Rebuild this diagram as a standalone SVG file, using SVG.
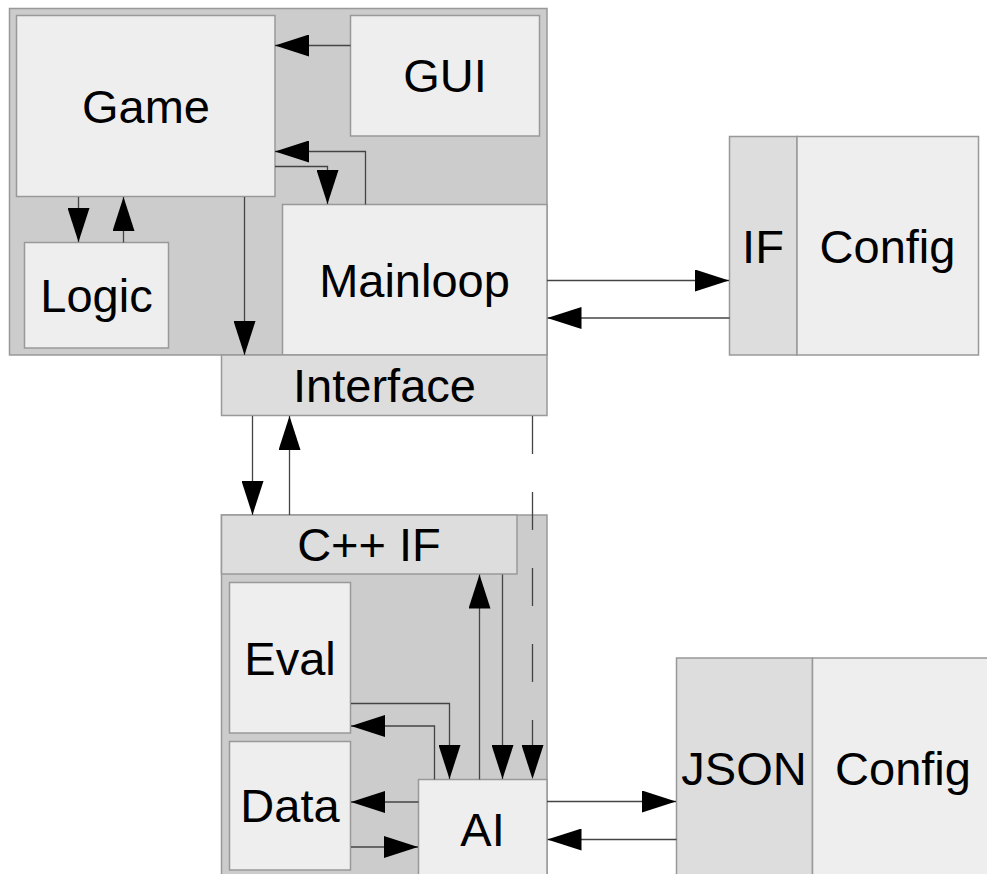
<svg xmlns="http://www.w3.org/2000/svg" width="987" height="874" viewBox="0 0 987 874">
<style>
.cont{fill:#cccccc;stroke:#999999;stroke-width:1.5}
.box{fill:#eeeeee;stroke:#999999;stroke-width:1.5}
.ifc{fill:#dddddd;stroke:#999999;stroke-width:1.5}
.lbl{font-family:"Liberation Sans",Arial,sans-serif;font-size:47px;fill:#000;text-anchor:middle}
.c{fill:none;stroke:#444444;stroke-width:1.3;marker-end:url(#ah)}
.d{stroke-dasharray:38 38}
</style>
<defs>
<marker id="ah" markerUnits="userSpaceOnUse" markerWidth="34" markerHeight="22" refX="34" refY="11" orient="auto" viewBox="0 0 34 22">
<path d="M0,0 L34,11 L0,22 z" fill="#000"/>
</marker>
</defs>
<rect id="top-container" class="cont" x="9.5" y="8.5" width="537.5" height="346.5"/>
<rect id="bottom-container" class="cont" x="221.5" y="515" width="325.5" height="365"/>
<g id="game"><rect class="box" x="16.5" y="15.5" width="258.5" height="181"/><text class="lbl" x="146" y="122.5">Game</text></g>
<g id="gui"><rect class="box" x="350.5" y="15.5" width="189" height="120.5"/><text class="lbl" x="445" y="92">GUI</text></g>
<g id="logic"><rect class="box" x="24.5" y="242.5" width="144" height="105.5"/><text class="lbl" x="96.5" y="312">Logic</text></g>
<g id="mainloop"><rect class="box" x="282.5" y="204.5" width="264.5" height="150.5"/><text class="lbl" x="414.5" y="296.5">Mainloop</text></g>
<g id="interface"><rect class="ifc" x="221.5" y="355" width="325.5" height="60.5"/><text class="lbl" x="384.5" y="401.5">Interface</text></g>
<g id="config-top"><rect class="ifc" x="729.5" y="136.5" width="67.5" height="218.5"/><rect class="box" x="797" y="136.5" width="181.5" height="218.5"/><text class="lbl" x="763" y="262.5">IF</text><text class="lbl" x="887.5" y="262.5">Config</text></g>
<g id="cppif"><rect class="ifc" x="221.5" y="515" width="295.5" height="59"/><text class="lbl" x="369" y="561">C++ IF</text></g>
<g id="eval"><rect class="box" x="229.5" y="582.5" width="121" height="150.5"/><text class="lbl" x="290" y="675">Eval</text></g>
<g id="data"><rect class="box" x="229.5" y="741.5" width="121" height="128.5"/><text class="lbl" x="290" y="822">Data</text></g>
<g id="ai"><rect class="box" x="418.5" y="779.5" width="128.5" height="100"/><text class="lbl" x="482.5" y="845.5">AI</text></g>
<g id="config-bottom"><rect class="ifc" x="676.5" y="658" width="136" height="222"/><rect class="box" x="812.5" y="658" width="182" height="222"/><text class="lbl" x="744" y="784.5">JSON</text><text class="lbl" x="903" y="784.5">Config</text></g>
<g id="connectors">
<path class="c" d="M350.5,45.5 H275"/>
<path class="c" d="M365.5,204.5 V151.5 H275"/>
<path class="c" d="M275,166.5 H327.5 V204"/>
<path class="c" d="M78.5,197 V242"/>
<path class="c" d="M123.5,242.5 V197"/>
<path class="c" d="M244.5,197 V355"/>
<path class="c" d="M547,280.5 H729"/>
<path class="c" d="M729.5,318 H547.5"/>
<path class="c" d="M252.5,416 V515"/>
<path class="c" d="M289.5,515 V416"/>
<path class="c d" d="M532.5,416 V779"/>
<path class="c" d="M351,703.5 H449.5 V779"/>
<path class="c" d="M434.5,779.5 V726 H351"/>
<path class="c" d="M418.5,802 H351"/>
<path class="c" d="M351,847 H418"/>
<path class="c" d="M479.5,779.5 V574.5"/>
<path class="c" d="M502.5,574.5 V779"/>
<path class="c" d="M547,801.5 H676"/>
<path class="c" d="M676.5,839.5 H547.5"/>
</g>
</svg>
